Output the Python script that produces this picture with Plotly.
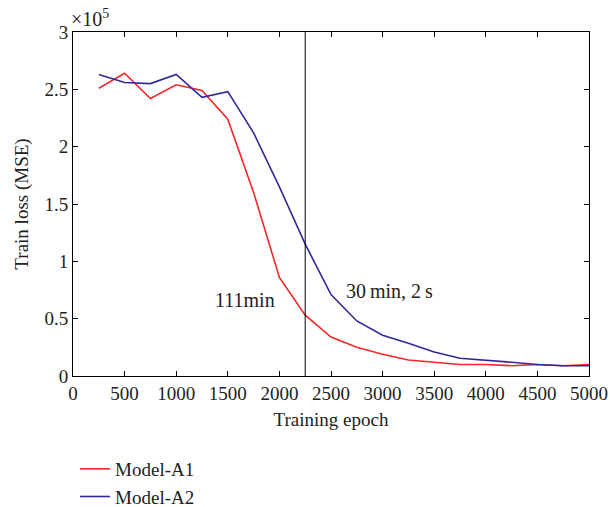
import plotly.graph_objects as go

epochs = [250, 500, 750, 1000, 1250, 1500, 1750, 2000, 2250, 2500,
          2750, 3000, 3250, 3500, 3750, 4000, 4250, 4500, 4750, 5000]
# training loss in units of 1e5
loss_a1 = [2.51, 2.64, 2.42, 2.54, 2.49, 2.24, 1.60, 0.86, 0.53, 0.34,
           0.25, 0.19, 0.14, 0.12, 0.10, 0.10, 0.09, 0.10, 0.09, 0.10]
loss_a2 = [2.63, 2.56, 2.55, 2.63, 2.43, 2.48, 2.12, 1.65, 1.15, 0.71,
           0.48, 0.355, 0.285, 0.21, 0.155, 0.14, 0.12, 0.10, 0.09, 0.09]
names = ["Model-A1", "Model-A2"]
colors = ["#f02828", "#302a98"]
marker_epoch = 2250
notes = [(1670, 0.66, "111min"), (3070, 0.74, "30\u2009min, 2\u2009s")]

FONT = "Liberation Serif"
TXT = "#222"

fig = go.Figure()
for name, ys, c in zip(names, [loss_a1, loss_a2], colors):
    fig.add_trace(go.Scatter(x=epochs, y=ys, mode="lines", name=name,
                             line=dict(color=c, width=1.6)))

fig.add_shape(type="line", x0=marker_epoch, x1=marker_epoch, y0=0, y1=3,
              xref="x", yref="y", line=dict(color="black", width=1))

for x, y, t in notes:
    fig.add_annotation(x=x, y=y, text=t, showarrow=False, xref="x", yref="y",
                       font=dict(family=FONT, size=20, color=TXT))

fig.add_annotation(x=0, y=1.0, xref="paper", yref="paper", xanchor="left",
                   yanchor="bottom", yshift=0, xshift=-4, showarrow=False,
                   text="\u00d710<sup>5</sup>",
                   font=dict(family=FONT, size=20, color=TXT))

axis_common = dict(showline=True, linecolor="black", linewidth=1, mirror="ticks",
                   ticks="inside", ticklen=5, tickcolor="black", showgrid=False,
                   zeroline=False, tickfont=dict(family=FONT, size=19, color=TXT))

fig.update_xaxes(range=[0, 5000], dtick=500, tick0=0,
                 title=dict(text="Training epoch", standoff=9,
                            font=dict(family=FONT, size=19, color=TXT)),
                 **axis_common)
fig.update_yaxes(range=[0, 3],
                 tickvals=[0, 0.5, 1, 1.5, 2, 2.5, 3],
                 ticktext=["0", "0.5", "1", "1.5", "2", "2.5", "3"],
                 title=dict(text="Train loss (MSE)", standoff=10,
                            font=dict(family=FONT, size=19, color=TXT)),
                 **axis_common)

fig.update_layout(
    width=610, height=507,
    margin=dict(l=73, r=21, t=32, b=131, autoexpand=False),
    paper_bgcolor="white", plot_bgcolor="white",
    showlegend=True,
    legend=dict(x=0.004, y=-0.215, xanchor="left", yanchor="top",
                orientation="v", tracegroupgap=0, itemwidth=30,
                font=dict(family=FONT, size=19, color=TXT),
                bgcolor="rgba(0,0,0,0)"),
)

fig.write_html("out.html")
